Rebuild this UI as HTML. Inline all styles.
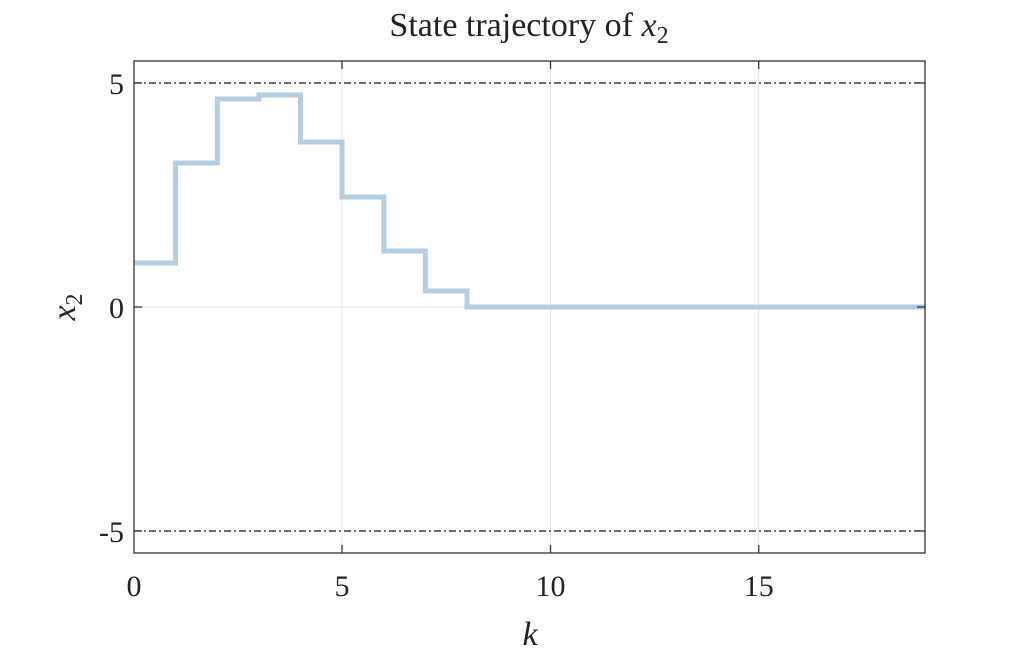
<!DOCTYPE html>
<html><head><style>body{margin:0;background:#fff}svg{display:block}text{font-family:"Liberation Serif",serif;fill:#222}</style></head>
<body>
<svg width="1024" height="664" viewBox="0 0 1024 664">
<rect x="0" y="0" width="1024" height="664" fill="#fff"/>
<g stroke="#e3e3e3" stroke-width="1">
<line x1="342" y1="61" x2="342" y2="553"/><line x1="550.5" y1="61" x2="550.5" y2="553"/><line x1="758.7" y1="61" x2="758.7" y2="553"/>
<line x1="134" y1="307" x2="925" y2="307"/>
</g>
<g stroke="#111" stroke-width="1.2" stroke-dasharray="7,3,2,3">
<line x1="134" y1="83" x2="925" y2="83"/><line x1="134" y1="531" x2="925" y2="531"/>
</g>
<polyline fill="none" stroke="#b3cde3" stroke-width="5" points="134,263 175.6,263 175.6,163 217.3,163 217.3,99 258.9,99 258.9,95 300.5,95 300.5,142 342,142 342,197 383.8,197 383.8,251 425.4,251 425.4,291 467,291 467,307 925,307"/>
<rect x="134" y="61" width="791" height="492" fill="none" stroke="#333" stroke-width="1.3"/>
<g stroke="#333" stroke-width="1.3">
<line x1="342" y1="553" x2="342" y2="545"/><line x1="550.5" y1="553" x2="550.5" y2="545"/><line x1="758.7" y1="553" x2="758.7" y2="545"/>
<line x1="342" y1="61" x2="342" y2="69"/><line x1="550.5" y1="61" x2="550.5" y2="69"/><line x1="758.7" y1="61" x2="758.7" y2="69"/>
<line x1="134" y1="83" x2="142" y2="83"/><line x1="134" y1="307" x2="142" y2="307"/><line x1="134" y1="531" x2="142" y2="531"/>
<line x1="925" y1="83" x2="917" y2="83"/><line x1="925" y1="307" x2="917" y2="307"/><line x1="925" y1="531" x2="917" y2="531"/>
</g>
<g font-size="30" text-anchor="end">
<text x="124" y="94">5</text><text x="124" y="318">0</text><text x="124" y="542">-5</text>
</g>
<g font-size="30" text-anchor="middle">
<text x="134" y="596">0</text><text x="342" y="596">5</text><text x="550.5" y="596">10</text><text x="758.7" y="596">15</text>
<text x="530" y="645" font-style="italic" font-size="34">k</text>
<text x="529" y="36" font-size="34">State trajectory of <tspan font-style="italic">x</tspan><tspan font-size="24" dy="7">2</tspan></text>
</g>
<text transform="translate(75,307) rotate(-90)" text-anchor="middle" font-size="34"><tspan font-style="italic">x</tspan><tspan font-size="24" dy="7">2</tspan></text>
</svg>
</body></html>
